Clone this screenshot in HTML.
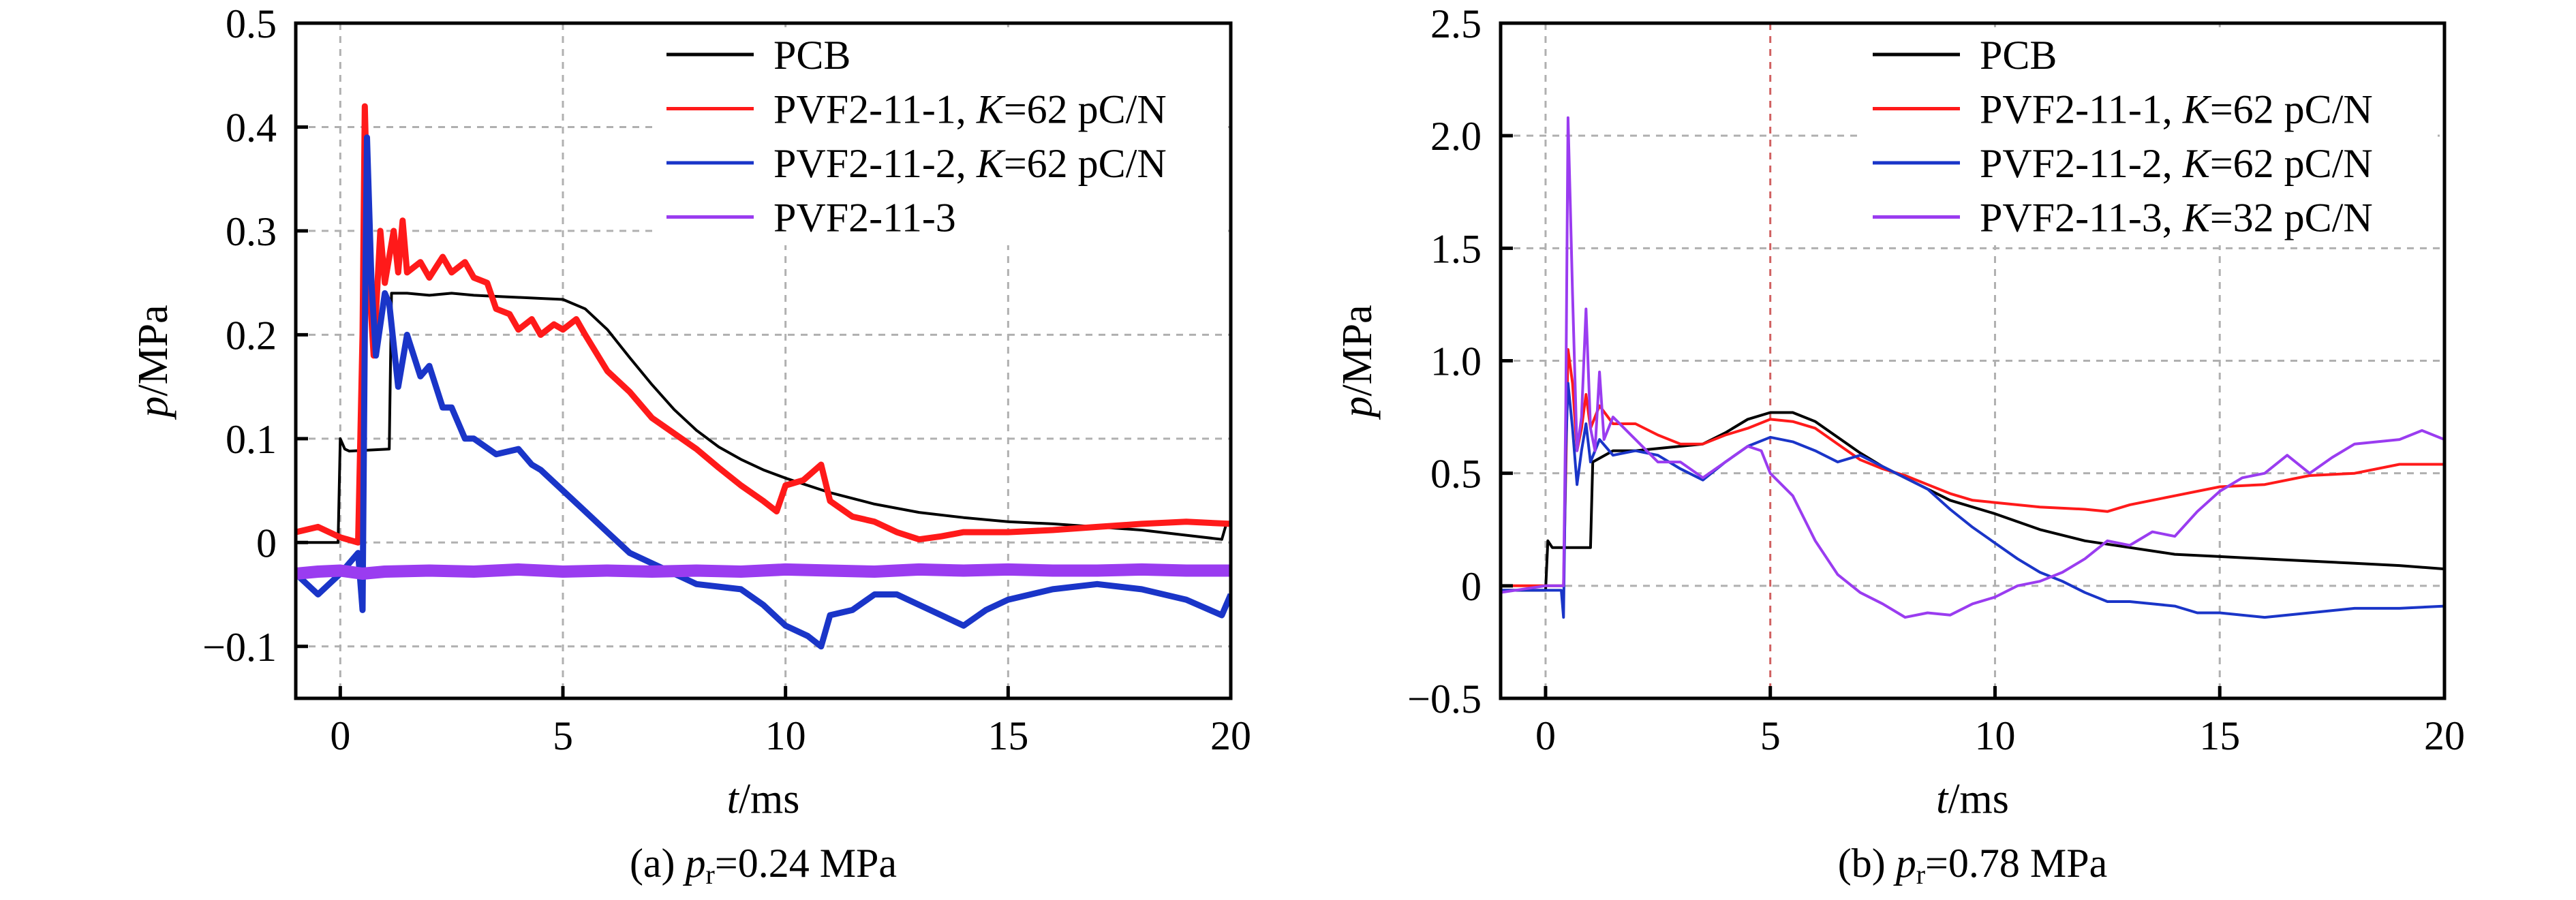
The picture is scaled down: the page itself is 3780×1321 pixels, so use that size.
<!DOCTYPE html>
<html><head><meta charset="utf-8">
<style>
html,body{margin:0;padding:0;background:#fff;}
svg{display:block;font-family:"Liberation Serif",serif;}
</style></head>
<body>
<svg id="fig" width="3780" height="1321" viewBox="0 0 3780 1321" xmlns="http://www.w3.org/2000/svg"></svg>
<script>
// ---------- Chart (a) data ----------
const aPcbT = [-1,-0.05,0,0.1,0.2,1.1,1.15,1.5,2,2.5,3,3.5,4,4.5,5,5.5,6,6.5,7,7.5,8,8.5,9,9.5,10,11,12,13,14,15,16,17,18,19,19.8,19.9];
const aPcbP = [0,0,0.1,0.09,0.088,0.09,0.24,0.24,0.238,0.24,0.238,0.237,0.236,0.235,0.234,0.225,0.205,0.178,0.152,0.128,0.108,0.092,0.08,0.07,0.062,0.048,0.037,0.029,0.024,0.02,0.018,0.015,0.012,0.007,0.003,0.018];
const aRedT = [-1,-0.5,0,0.4,0.5,0.55,0.65,0.75,0.9,1.0,1.2,1.3,1.4,1.5,1.8,2,2.3,2.5,2.8,3,3.3,3.5,3.8,4,4.3,4.5,4.8,5,5.3,5.5,6,6.5,7,7.5,8,8.5,9,9.5,9.8,10,10.4,10.8,11,11.5,12,12.5,13,13.5,14,15,16,17,18,19,20];
const aRedP = [0.01,0.015,0.005,0,0.2,0.42,0.25,0.18,0.3,0.25,0.3,0.26,0.31,0.26,0.27,0.255,0.275,0.26,0.27,0.255,0.25,0.225,0.22,0.205,0.215,0.2,0.21,0.205,0.215,0.2,0.165,0.145,0.12,0.105,0.09,0.072,0.055,0.04,0.03,0.055,0.06,0.075,0.04,0.025,0.02,0.01,0.003,0.006,0.01,0.01,0.012,0.015,0.018,0.02,0.018];
const aBlueT = [-1,-0.5,0,0.4,0.5,0.55,0.6,0.7,0.8,1.0,1.1,1.3,1.5,1.8,2,2.3,2.5,2.8,3,3.5,4,4.3,4.5,5,5.5,6,6.5,7,7.5,8,9,9.5,10,10.5,10.8,11,11.5,12,12.5,13,13.5,14,14.5,15,16,17,18,19,19.8,20];
const aBlueP = [-0.03,-0.05,-0.03,-0.01,-0.065,0.2,0.39,0.25,0.18,0.24,0.23,0.15,0.2,0.16,0.17,0.13,0.13,0.1,0.1,0.085,0.09,0.075,0.07,0.05,0.03,0.01,-0.01,-0.02,-0.03,-0.04,-0.045,-0.06,-0.08,-0.09,-0.1,-0.07,-0.065,-0.05,-0.05,-0.06,-0.07,-0.08,-0.065,-0.055,-0.045,-0.04,-0.045,-0.055,-0.07,-0.05];
const aPurT = [-1,-0.5,0,0.5,1,2,3,4,5,6,7,8,9,10,11,12,13,14,15,16,17,18,19,20];
const aPurP = [-0.03,-0.028,-0.027,-0.03,-0.028,-0.027,-0.028,-0.026,-0.028,-0.027,-0.028,-0.027,-0.028,-0.026,-0.027,-0.028,-0.026,-0.027,-0.026,-0.027,-0.027,-0.026,-0.027,-0.027];
const aYTicks = [-0.1,0,0.1,0.2,0.3,0.4,0.5];
const aYLabels = ["\u22120.1","0","0.1","0.2","0.3","0.4","0.5"];
// ---------- Chart (b) data ----------
const bPcbT = [-1,0,0.05,0.15,1,1.05,1.5,2,3,3.5,4,4.5,5,5.5,6,6.5,7,7.5,8,8.5,9,10,11,12,13,14,15,16,17,18,19,20];
const bPcbP = [-0.02,-0.02,0.2,0.17,0.17,0.55,0.6,0.6,0.62,0.63,0.68,0.74,0.77,0.77,0.73,0.66,0.59,0.53,0.48,0.43,0.38,0.32,0.25,0.2,0.17,0.14,0.13,0.12,0.11,0.1,0.09,0.075];
const bRedT = [-1,0,0.4,0.45,0.5,0.6,0.7,0.8,0.9,1,1.2,1.5,2,2.5,3,3.5,4,4.5,5,5.5,6,6.5,7,7.5,8,8.5,9,9.5,10,11,12,12.5,13,14,15,16,17,18,19,20];
const bRedP = [0,0,0,0.5,1.05,0.9,0.6,0.7,0.85,0.7,0.8,0.72,0.72,0.67,0.63,0.63,0.67,0.7,0.74,0.73,0.7,0.63,0.56,0.52,0.49,0.45,0.41,0.38,0.37,0.35,0.34,0.33,0.36,0.4,0.44,0.45,0.49,0.5,0.54,0.54];
const bBlueT = [-1,0,0.35,0.4,0.45,0.5,0.6,0.7,0.8,0.9,1,1.2,1.5,2,2.5,3,3.5,4,4.5,5,5.5,6,6.5,7,7.5,8,8.5,9,9.5,10,10.5,11,11.5,12,12.5,13,14,14.5,15,16,17,18,19,20];
const bBlueP = [-0.02,-0.02,-0.02,-0.14,0.6,0.9,0.7,0.45,0.6,0.72,0.55,0.65,0.58,0.6,0.58,0.52,0.47,0.55,0.62,0.66,0.64,0.6,0.55,0.58,0.53,0.48,0.43,0.34,0.26,0.19,0.12,0.06,0.02,-0.03,-0.07,-0.07,-0.09,-0.12,-0.12,-0.14,-0.12,-0.1,-0.1,-0.09];
const bPurT = [-1,0,0.4,0.45,0.5,0.55,0.6,0.7,0.8,0.9,1.0,1.1,1.2,1.3,1.5,2,2.5,3,3.5,4,4.5,4.8,5,5.5,6,6.5,7,7.5,8,8.5,9,9.5,10,10.5,11,11.5,12,12.5,13,13.5,14,14.5,15,15.5,16,16.5,17,17.5,18,19,19.5,20];
const bPurP = [-0.03,0,0,0.8,2.08,1.7,1.3,0.6,0.75,1.23,0.7,0.6,0.95,0.65,0.75,0.65,0.55,0.55,0.48,0.55,0.62,0.6,0.5,0.4,0.2,0.05,-0.03,-0.08,-0.14,-0.12,-0.13,-0.08,-0.05,0,0.02,0.06,0.12,0.2,0.18,0.24,0.22,0.33,0.42,0.48,0.5,0.58,0.5,0.57,0.63,0.65,0.69,0.65];
const bYTicks = [-0.5,0,0.5,1.0,1.5,2.0,2.5];
const bYLabels = ["\u22120.5","0","0.5","1.0","1.5","2.0","2.5"];
const xTicks = [0,5,10,15,20];

const NS = "http://www.w3.org/2000/svg";
const svg = document.getElementById('fig');
function mk(tag, attrs, parent){const e=document.createElementNS(NS,tag);for(const k in attrs)e.setAttribute(k,attrs[k]);(parent||svg).appendChild(e);return e;}

function chart(cfg){
  const g = mk('g',{});
  
  
  const L=cfg.L,R=cfg.R,T=34,B=1025;
  const sx = t => L + (t - (-1)) / 21 * (R - L);
  const sy = v => B - (v - cfg.ymin) / (cfg.ymax - cfg.ymin) * (B - T);
  xTicks.forEach((t,i)=>{ if(t>-1 && t<20){
    const ln = mk('line',{x1:sx(t),x2:sx(t),y1:T,y2:B,stroke:(cfg.redGrid===t?'#d06060':'#b0b0b0'),'stroke-width':3,'stroke-dasharray':'10 9'},g);
    
    
  }});
  cfg.yTicks.forEach(v=>{ if(v>cfg.ymin && v<cfg.ymax){
    const ln = mk('line',{x1:L,x2:R,y1:sy(v),y2:sy(v),stroke:'#b0b0b0','stroke-width':3,'stroke-dasharray':'10 9'},g);
    
    
  }});
  const lb = mk('rect',{x:cfg.legX-20,y:40,width:R-cfg.legX+10,height:320,fill:'#fff'},g);
  
  
  const clip = mk('clipPath',{id:cfg.name+'-clip'},g);
  mk('rect',{x:L,y:T,width:R-L,height:B-T},clip);
  cfg.series.forEach(s=>{
    let d='';
    for(let i=0;i<s.t.length;i++){ d += (i?'L':'M') + sx(s.t[i]).toFixed(1) + ' ' + sy(s.p[i]).toFixed(1) + ' '; }
    const p = mk('path',{d:d,fill:'none',stroke:s.color,'stroke-width':s.w,'stroke-linejoin':'round','clip-path':'url(#'+cfg.name+'-clip)'},g);
    
    
  });
  const fr = mk('rect',{x:L,y:T,width:R-L,height:B-T,fill:'none',stroke:'#000','stroke-width':5},g);
  
  
  xTicks.forEach((t,i)=>{
    mk('line',{x1:sx(t),x2:sx(t),y1:B,y2:B-18,stroke:'#000','stroke-width':5},g);
    const tx = mk('text',{x:sx(t),y:1100,'font-size':60,'text-anchor':'middle'},g);
    tx.textContent = String(t);
    
    
  });
  cfg.yTicks.forEach((v,i)=>{
    mk('line',{x1:L,x2:L+18,y1:sy(v),y2:sy(v),stroke:'#000','stroke-width':5},g);
    const tx = mk('text',{x:L-28,y:sy(v)+21,'font-size':60,'text-anchor':'end'},g);
    tx.textContent = cfg.yLabels[i];
    
    
  });
  cfg.series.forEach((s,i)=>{
    const y = 80 + i*79.5;
    const ln = mk('line',{x1:cfg.legX,x2:cfg.legX+128,y1:y,y2:y,stroke:s.color,'stroke-width':5},g);
    
    
    const tx = mk('text',{x:cfg.legX+157,y:y+21,'font-size':60},g);
    tx.innerHTML = s.label;
    
    
  });
  const xt = mk('text',{x:(L+R)/2,y:1193,'font-size':62,'text-anchor':'middle'},g);
  xt.innerHTML = '<tspan font-style="italic">t</tspan>/ms';
  
  
  const yt = mk('text',{x:0,y:0,'font-size':62,'text-anchor':'middle',transform:'translate('+(cfg.ylabX)+',530) rotate(-90)'},g);
  yt.innerHTML = '<tspan font-style="italic">p</tspan>/MPa';
  
  
  const cap = mk('text',{x:(L+R)/2,y:1287,'font-size':60,'text-anchor':'middle'},g);
  cap.innerHTML = cfg.caption;
  
  
}

chart({name:'chart-a',L:434,R:1806,ymin:-0.15,ymax:0.5,yTicks:aYTicks,yLabels:aYLabels,legX:978,ylabX:245,
  caption:'(a) <tspan font-style="italic">p</tspan><tspan font-size="40" dy="10">r</tspan><tspan dy="-10">=0.24 MPa</tspan>',
  series:[
    {id:'pcb',t:aPcbT,p:aPcbP,color:'#000',w:4,label:'PCB'},
    {id:'pvf2-11-1',t:aRedT,p:aRedP,color:'#ff1a1a',w:9,label:'PVF2-11-1, <tspan font-style="italic">K</tspan>=62 pC/N'},
    {id:'pvf2-11-2',t:aBlueT,p:aBlueP,color:'#1a35c8',w:9,label:'PVF2-11-2, <tspan font-style="italic">K</tspan>=62 pC/N'},
    {id:'pvf2-11-3',t:aPurT,p:aPurP,color:'#9a3cf0',w:18,label:'PVF2-11-3'}
  ]});
chart({name:'chart-b',L:2202,R:3587,ymin:-0.5,ymax:2.5,yTicks:bYTicks,yLabels:bYLabels,legX:2748,ylabX:2012,redGrid:5,
  caption:'(b) <tspan font-style="italic">p</tspan><tspan font-size="40" dy="10">r</tspan><tspan dy="-10">=0.78 MPa</tspan>',
  series:[
    {id:'pcb',t:bPcbT,p:bPcbP,color:'#000',w:4,label:'PCB'},
    {id:'pvf2-11-1',t:bRedT,p:bRedP,color:'#ff1a1a',w:4,label:'PVF2-11-1, <tspan font-style="italic">K</tspan>=62 pC/N'},
    {id:'pvf2-11-2',t:bBlueT,p:bBlueP,color:'#1a35c8',w:4,label:'PVF2-11-2, <tspan font-style="italic">K</tspan>=62 pC/N'},
    {id:'pvf2-11-3',t:bPurT,p:bPurP,color:'#9a3cf0',w:4,label:'PVF2-11-3, <tspan font-style="italic">K</tspan>=32 pC/N'}
  ]});
</script>
</body></html>
